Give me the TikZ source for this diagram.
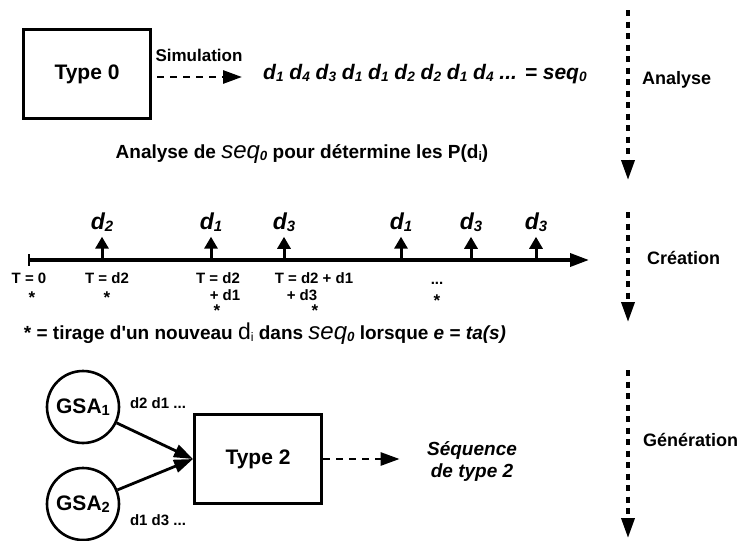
\documentclass[tikz,border=0pt]{standalone}
\usepackage{fontspec}
\setmainfont{Liberation Sans}
\usetikzlibrary{positioning,arrows.meta,calc}
\newcommand{\fs}[1]{\fontsize{#1}{#1}\selectfont}
\newcommand{\dsb}[1]{d\raisebox{-0.1em}{\scalebox{0.65}{#1}}}
\newcommand{\seqz}{{\fs{24}\mdseries\itshape seq}\raisebox{-0.1em}{\scalebox{0.7}{\itshape 0}}}

\begin{document}
\begin{tikzpicture}[x=1pt,y=-1pt,font=\fs{18}\bfseries,>={Triangle[length=19pt,width=13pt]},
  bx/.style={draw,line width=3pt,minimum width=127pt,minimum height=89pt,font=\fs{21}\bfseries},
  gsa/.style={draw,circle,line width=2.6pt,minimum size=72pt,inner sep=0pt,font=\fs{21}\bfseries},
  sm/.style={font=\fs{15}\bfseries,inner sep=1pt},
  st/.style={font=\fs{17}\bfseries,inner sep=0pt},
  dl/.style={font=\fs{23}\bfseries\itshape,inner sep=0pt},
  dsh/.style={line width=2.8pt,dash pattern=on 7pt off 6pt},
  vd/.style={line width=3.6pt,dash pattern=on 6pt off 5.5pt},
  up/.style={line width=3pt,-{Triangle[length=12pt,width=13pt]}},
  ph/.style={font=\fs{18}\bfseries,inner sep=0pt,anchor=west}]
\useasboundingbox (0,0) rectangle (745,541);
\node[bx](typ0) at (87,74){Type 0};
\node[font=\fs{17}\bfseries](sim) at (199,55){Simulation};
\node[font=\fs{21}\bfseries\itshape,anchor=west,inner sep=0pt](seq) at (263,74){\dsb1 \dsb4 \dsb3 \dsb1 \dsb1 \dsb2 \dsb2 \dsb1 \dsb4 ... = seq\raisebox{-0.1em}{\scalebox{0.65}{0}}};
\draw[dsh,->] ($(typ0.east)+(5,3)$) -- ($(seq.west)+(-21,3)$);
\node[font=\fs{19}\bfseries](ana) at (302,154){Analyse de \seqz{} pour détermine les P(\dsb{i})};
\coordinate(tl0) at (29,260);\coordinate(tl1) at (589,260);
\draw[line width=3.6pt,->](tl0)--(tl1);
\draw[line width=2.8pt]($(tl0)+(0,-6)$)--($(tl0)+(0,6)$);
\foreach \x/\k in {102/2,211/1,284/3,401/1,471/3,536/3}{
  \coordinate(b\x) at (\x,260);
  \node[dl](d\x) at (\x,222){\dsb{\k}};
  \draw[up,shorten >=5pt](b\x)--(d\x);}
\node[sm](ta) at (29,278){T = 0};\node[st](sa) at (32,298){*};
\node[sm](tb) at (107,278){T = d2};\node[st](sb) at (107,298){*};
\node[sm](tc) at (218,278){T = d2};\node[sm](tc2) at (225,295){+ d1};\node[st](sc) at (217,311){*};
\node[sm](td) at (314,278){T = d2 + d1};\node[sm](td2) at (302,295){+ d3};\node[st](sd) at (315,311){*};
\node[sm](te) at (437,283){...};\node[st](se) at (437,301){*};
\node[font=\fs{19}\bfseries,inner sep=0pt](note) at (265,334){* = tirage d\textquotesingle un nouveau {\mdseries\fs{23}d}\raisebox{-0.1em}{\scalebox{0.65}{\mdseries i}} dans \seqz{} lorsque {\itshape e} = {\itshape ta(s)}};
\node[gsa](g1) at (83,407){GSA\raisebox{-0.1em}{\scalebox{0.7}{1}}};
\node[gsa](g2) at (83,504){GSA\raisebox{-0.1em}{\scalebox{0.7}{2}}};
\node[bx](typ2) at (258,459){Type 2};
\draw[line width=2.8pt,->](g1)--(typ2.west);\draw[line width=2.8pt,->](g2)--(typ2.west);
\node[sm](l1) at (158,403){d2 d1 ...};\node[sm](l2) at (158,520){d1 d3 ...};
\node[font=\fontsize{19}{22}\selectfont\bfseries\itshape,align=center](sq2) at (472,461){Séquence\\de type 2};
\draw[dsh,->,shorten >=24pt](typ2.east)--(typ2.east -| sq2.west);
\foreach \n/\a/\b in {1/10/180,2/212/322,3/370/538}{
  \coordinate(v\n) at (628,\a);\coordinate(w\n) at (628,\b);
  \draw[vd,-{Triangle[length=20pt,width=13pt]}](v\n)--(w\n);}
\node[ph](lana) at (642,80){Analyse};
\node[ph](lcre) at (647,258){Création};
\node[ph](lgen) at (643,440){Génération};
\end{tikzpicture}
\end{document}
